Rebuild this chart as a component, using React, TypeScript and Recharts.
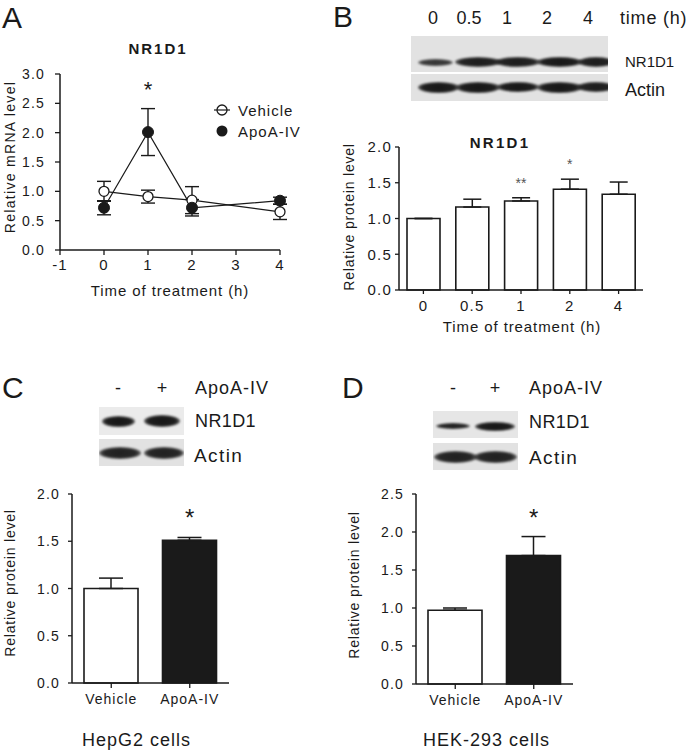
import React from "react";
import {
  LineChart,
  Line,
  BarChart,
  Bar,
  Cell,
  XAxis,
  YAxis,
  ErrorBar,
  ReferenceDot,
} from "recharts";

const FONT = '"Liberation Sans", Arial, sans-serif';
const INK = "#1a1a1a";

// A: NR1D1 mRNA over time
const timeA = [0, 1, 2, 4];
const vehicleA = [1.0, 0.91, 0.85, 0.65];
const vehicleErrA = [0.17, 0.11, 0.23, 0.13];
const apoaA = [0.72, 2.01, 0.72, 0.84];
const apoaErrA = [0.12, 0.4, 0.14, 0.06];
const sigA = ["", "*", "", ""];
const ticksAx = [-1, 0, 1, 2, 3, 4];
const ticksAy = [0, 0.5, 1, 1.5, 2, 2.5, 3];

// B: NR1D1 protein over time
const timeB = ["0", "0.5", "1", "2", "4"];
const proteinB = [1.0, 1.16, 1.245, 1.41, 1.34];
const errB = [0, 0.11, 0.045, 0.14, 0.17];
const sigB = ["", "", "**", "*", ""];
const ticksBy = [0, 0.5, 1, 1.5, 2];

// C: HepG2 cells
const groups = ["Vehicle", "ApoA-IV"];
const proteinC = [1.0, 1.51];
const errC = [0.11, 0.03];
const sigC = ["", "*"];
const ticksCy = [0, 0.5, 1, 1.5, 2];

// D: HEK-293 cells
const proteinD = [0.97, 1.69];
const errD = [0.03, 0.25];
const sigD = ["", "*"];
const ticksDy = [0, 0.5, 1, 1.5, 2, 2.5];

const dataA = timeA.map((t, i) => ({
  t,
  vehicle: vehicleA[i],
  vehicleErr: vehicleErrA[i],
  apoa: apoaA[i],
  apoaErr: apoaErrA[i],
}));
const dataB = timeB.map((t, i) => ({ t, v: proteinB[i], err: [0, errB[i]] }));
const dataC = groups.map((g, i) => ({ g, v: proteinC[i], err: [0, errC[i]] }));
const dataD = groups.map((g, i) => ({ g, v: proteinD[i], err: [0, errD[i]] }));

const axisLine = { stroke: INK, strokeWidth: 1.5 };
const tickLine = { stroke: INK, strokeWidth: 1.3 };

function AxisTick(props: any) {
  const { x, y, payload, textAnchor, size, ls, digits, orient } = props;
  const v = payload.value;
  const label = typeof v === "number" && digits != null ? v.toFixed(digits) : String(v);
  return (
    <text
      x={x}
      y={y}
      dy={orient === "x" ? "0.72em" : "0.36em"}
      textAnchor={textAnchor}
      fontFamily={FONT}
      fontSize={size}
      letterSpacing={ls}
      fill={INK}
    >
      {label}
    </text>
  );
}

function T({ x, y, size = 14, ls = 0, bold = false, anchor = "start", rotate = false, color = INK, children }: any) {
  const tx = anchor === "middle" ? "-50%" : anchor === "end" ? "-100%" : "0";
  return (
    <div
      style={{
        position: "absolute",
        left: x,
        top: y,
        fontFamily: FONT,
        fontSize: size,
        letterSpacing: ls,
        fontWeight: bold ? 700 : 400,
        color,
        lineHeight: 1,
        whiteSpace: "nowrap",
        transform: rotate ? "translate(-50%,-50%) rotate(-90deg)" : `translate(${tx},-50%)`,
      }}
    >
      {children}
    </div>
  );
}

type Band = { x: number; w: number; h: number; o: number };

// western blot strip, drawn as soft dark smears on a grey background
function Blot({ left, top, width, height, cy, bands, bg = "#e2e2e2" }: any) {
  return (
    <div style={{ position: "absolute", left, top, width, height, background: bg, overflow: "hidden" }}>
      {bands.map((b: Band, i: number) => (
        <div
          key={i}
          style={{
            position: "absolute",
            left: b.x,
            top: cy - b.h / 2,
            width: b.w,
            height: b.h,
            borderRadius: "50%",
            background: `radial-gradient(ellipse at center, rgba(10,10,10,${b.o}) 0%, rgba(20,20,20,${b.o}) 55%, rgba(60,60,60,${b.o * 0.5}) 80%, rgba(120,120,120,0) 100%)`,
            filter: "blur(0.8px)",
          }}
        />
      ))}
    </div>
  );
}

function Box({ left, top, width, height, children }: any) {
  return <div style={{ position: "absolute", left, top, width, height }}>{children}</div>;
}

function starLabel(value: string, size: number, offset: number, color = INK) {
  return { value, position: "top" as const, offset, fontSize: size, fill: color, fontFamily: FONT };
}

function PanelA() {
  return (
    <Box left={0} top={0} width={300} height={300}>
      <LineChart width={300} height={300} data={dataA} margin={{ top: 74, right: 20, bottom: 0, left: 0 }}>
        <XAxis
          type="number"
          dataKey="t"
          domain={[-1, 4]}
          ticks={ticksAx}
          interval={0}
          height={50}
          tickSize={5}
          tickMargin={4}
          axisLine={axisLine}
          tickLine={tickLine}
          tick={(p: any) => <AxisTick {...p} size={15} ls={1.2} orient="x" />}
        />
        <YAxis
          type="number"
          domain={[0, 3]}
          ticks={ticksAy}
          interval={0}
          width={60}
          tickSize={5}
          tickMargin={10}
          axisLine={axisLine}
          tickLine={tickLine}
          tick={(p: any) => <AxisTick {...p} size={14} ls={1.2} digits={1} orient="y" />}
        />
        <Line
          dataKey="vehicle"
          stroke={INK}
          strokeWidth={1.2}
          isAnimationActive={false}
          dot={{ r: 5, fill: "#fff", stroke: INK, strokeWidth: 1.3 }}
        >
          <ErrorBar dataKey="vehicleErr" width={7} stroke={INK} strokeWidth={1.4} direction="y" />
        </Line>
        <Line
          dataKey="apoa"
          stroke={INK}
          strokeWidth={1.2}
          isAnimationActive={false}
          dot={{ r: 5.5, fill: INK, stroke: INK, strokeWidth: 1 }}
        >
          <ErrorBar dataKey="apoaErr" width={7} stroke={INK} strokeWidth={1.4} direction="y" />
        </Line>
        {sigA.map((s, i) =>
          s ? (
            <ReferenceDot
              key={i}
              x={timeA[i]}
              y={apoaA[i] + apoaErrA[i]}
              r={0}
              fill="none"
              stroke="none"
              label={starLabel(s, 22, 12)}
            />
          ) : null
        )}
      </LineChart>
    </Box>
  );
}

function PanelB() {
  return (
    <Box left={330} top={130} width={330} height={200}>
      <BarChart width={330} height={200} data={dataB} margin={{ top: 17, right: 17, bottom: 0, left: 0 }}>
        <XAxis
          dataKey="t"
          height={40}
          tickSize={4}
          tickMargin={6}
          axisLine={axisLine}
          tickLine={tickLine}
          tick={(p: any) => <AxisTick {...p} size={15} ls={1.2} orient="x" />}
        />
        <YAxis
          type="number"
          domain={[0, 2]}
          ticks={ticksBy}
          interval={0}
          width={69}
          tickSize={4}
          tickMargin={3}
          axisLine={axisLine}
          tickLine={tickLine}
          tick={(p: any) => <AxisTick {...p} size={15} ls={1.2} digits={1} orient="y" />}
        />
        <Bar dataKey="v" barSize={33} fill="#fff" stroke={INK} strokeWidth={1.6} isAnimationActive={false}>
          <ErrorBar dataKey="err" width={9} stroke={INK} strokeWidth={1.5} direction="y" />
        </Bar>
        {sigB.map((s, i) =>
          s ? (
            <ReferenceDot
              key={i}
              x={timeB[i]}
              y={proteinB[i] + errB[i]}
              r={0}
              fill="none"
              stroke="none"
              label={starLabel(s, 14, 10, "#555")}
            />
          ) : null
        )}
      </BarChart>
    </Box>
  );
}

function GroupBars({ left, data, values, errs, sig, ticks, max, yWidth, right, height, bottom }: any) {
  return (
    <Box left={left} top={480} width={250} height={height}>
      <BarChart width={250} height={height} data={data} margin={{ top: 14, right, bottom: 0, left: 0 }}>
        <XAxis
          dataKey="g"
          height={bottom}
          tickSize={5}
          tickMargin={6}
          axisLine={axisLine}
          tickLine={tickLine}
          tick={(p: any) => <AxisTick {...p} size={14} ls={1} orient="x" />}
        />
        <YAxis
          type="number"
          domain={[0, max]}
          ticks={ticks}
          interval={0}
          width={yWidth}
          tickSize={4}
          tickMargin={8}
          axisLine={axisLine}
          tickLine={tickLine}
          tick={(p: any) => <AxisTick {...p} size={14} ls={1.2} digits={1} orient="y" />}
        />
        <Bar dataKey="v" barSize={54} stroke={INK} strokeWidth={1.6} isAnimationActive={false}>
          {data.map((_: any, i: number) => (
            <Cell key={i} fill={i === 0 ? "#fff" : INK} />
          ))}
          <ErrorBar dataKey="err" width={12} stroke={INK} strokeWidth={1.5} direction="y" />
        </Bar>
        {sig.map((s: string, i: number) =>
          s ? (
            <ReferenceDot
              key={i}
              x={groups[i]}
              y={values[i] + errs[i]}
              r={0}
              fill="none"
              stroke="none"
              label={starLabel(s, 24, 11)}
            />
          ) : null
        )}
      </BarChart>
    </Box>
  );
}

function LegendA() {
  return (
    <>
      <svg style={{ position: "absolute", left: 212, top: 100 }} width={20} height={42}>
        <line x1={2} y1={10} x2={18} y2={10} stroke={INK} strokeWidth={1.2} />
        <circle cx={10} cy={10} r={5} fill="none" stroke={INK} strokeWidth={1.3} />
        <circle cx={10} cy={31} r={5.5} fill={INK} />
      </svg>
      <T x={238} y={110} size={15} ls={1}>Vehicle</T>
      <T x={238} y={131} size={15} ls={1}>ApoA-IV</T>
    </>
  );
}

export default function App() {
  return (
    <div
      style={{
        position: "absolute",
        left: 0,
        top: 0,
        width: 693,
        height: 752,
        background: "#fff",
        overflow: "hidden",
        fontFamily: FONT,
      }}
    >
      {/* A */}
      <PanelA />
      <T x={2} y={18} size={30}>A</T>
      <T x={158} y={48} size={15} bold ls={2} anchor="middle">NR1D1</T>
      <T x={10} y={157} size={14} ls={1.3} rotate>Relative mRNA level</T>
      <T x={170} y={290} size={15} ls={0.9} anchor="middle">Time of treatment (h)</T>
      <LegendA />

      {/* B */}
      <T x={333} y={17} size={30}>B</T>
      {timeB.map((t, i) => (
        <T key={t} x={[433, 469, 507, 547, 588][i]} y={18} size={18} anchor="middle">{t}</T>
      ))}
      <T x={620} y={18} size={18} ls={0.8}>time (h)</T>
      <Blot
        left={411}
        top={36}
        width={197}
        height={36}
        cy={26}
        bands={[
          { x: 7, w: 35, h: 7, o: 0.8 },
          { x: 44, w: 46, h: 10, o: 0.92 },
          { x: 84, w: 45, h: 10, o: 0.92 },
          { x: 126, w: 45, h: 10, o: 0.95 },
          { x: 167, w: 36, h: 10, o: 0.92 },
        ]}
      />
      <Blot
        left={411}
        top={74}
        width={197}
        height={27}
        cy={13}
        bands={[
          { x: 7, w: 41, h: 11, o: 0.95 },
          { x: 45, w: 44, h: 11, o: 0.95 },
          { x: 86, w: 42, h: 10, o: 0.95 },
          { x: 126, w: 45, h: 11, o: 0.95 },
          { x: 166, w: 38, h: 10, o: 0.92 },
        ]}
      />
      <T x={625} y={61} size={15}>NR1D1</T>
      <T x={625} y={90} size={18}>Actin</T>
      <PanelB />
      <T x={500} y={142} size={15} bold ls={2.3} anchor="middle">NR1D1</T>
      <T x={349} y={217} size={14} ls={0.8} rotate>Relative protein level</T>
      <T x={522} y={326} size={15} ls={0.9} anchor="middle">Time of treatment (h)</T>

      {/* C */}
      <T x={2} y={388} size={30}>C</T>
      <T x={118} y={388} size={18} anchor="middle">-</T>
      <T x={162} y={388} size={18} anchor="middle">+</T>
      <T x={195} y={388} size={18} ls={1}>ApoA-IV</T>
      <Blot
        left={99}
        top={407}
        width={85}
        height={28}
        cy={14}
        bg="#ebebeb"
        bands={[
          { x: 3, w: 33, h: 11, o: 0.95 },
          { x: 45, w: 36, h: 12, o: 0.95 },
        ]}
      />
      <Blot
        left={99}
        top={439}
        width={85}
        height={27}
        cy={14}
        bands={[
          { x: 0, w: 42, h: 12, o: 0.9 },
          { x: 45, w: 40, h: 12, o: 0.9 },
        ]}
      />
      <T x={195} y={421} size={18} ls={0.4}>NR1D1</T>
      <T x={194} y={455} size={19} ls={1.4}>Actin</T>
      <GroupBars
        left={0}
        data={dataC}
        values={proteinC}
        errs={errC}
        sig={sigC}
        ticks={ticksCy}
        max={2}
        yWidth={72}
        right={21}
        height={240}
        bottom={37}
      />
      <T x={10} y={583} size={14} ls={0.8} rotate>Relative protein level</T>
      <T x={82} y={740} size={18} ls={1}>HepG2 cells</T>

      {/* D */}
      <T x={342} y={388} size={30}>D</T>
      <T x={453} y={388} size={18} anchor="middle">-</T>
      <T x={495} y={388} size={18} anchor="middle">+</T>
      <T x={529} y={388} size={18} ls={1}>ApoA-IV</T>
      <Blot
        left={433}
        top={411}
        width={85}
        height={27}
        cy={15}
        bg="#e6e6e6"
        bands={[
          { x: 3, w: 34, h: 6, o: 0.9 },
          { x: 42, w: 40, h: 9, o: 0.95 },
        ]}
      />
      <Blot
        left={433}
        top={443}
        width={85}
        height={27}
        cy={14}
        bands={[
          { x: 1, w: 43, h: 12, o: 0.9 },
          { x: 41, w: 43, h: 12, o: 0.9 },
        ]}
      />
      <T x={529} y={422} size={18} ls={0.4}>NR1D1</T>
      <T x={529} y={457} size={19} ls={1.4}>Actin</T>
      <GroupBars
        left={340}
        data={dataD}
        values={proteinD}
        errs={errD}
        sig={sigD}
        ticks={ticksDy}
        max={2.5}
        yWidth={76}
        right={17}
        height={240}
        bottom={36}
      />
      <T x={354} y={585} size={14} ls={0.8} rotate>Relative protein level</T>
      <T x={423} y={740} size={18} ls={1}>HEK-293 cells</T>
    </div>
  );
}
